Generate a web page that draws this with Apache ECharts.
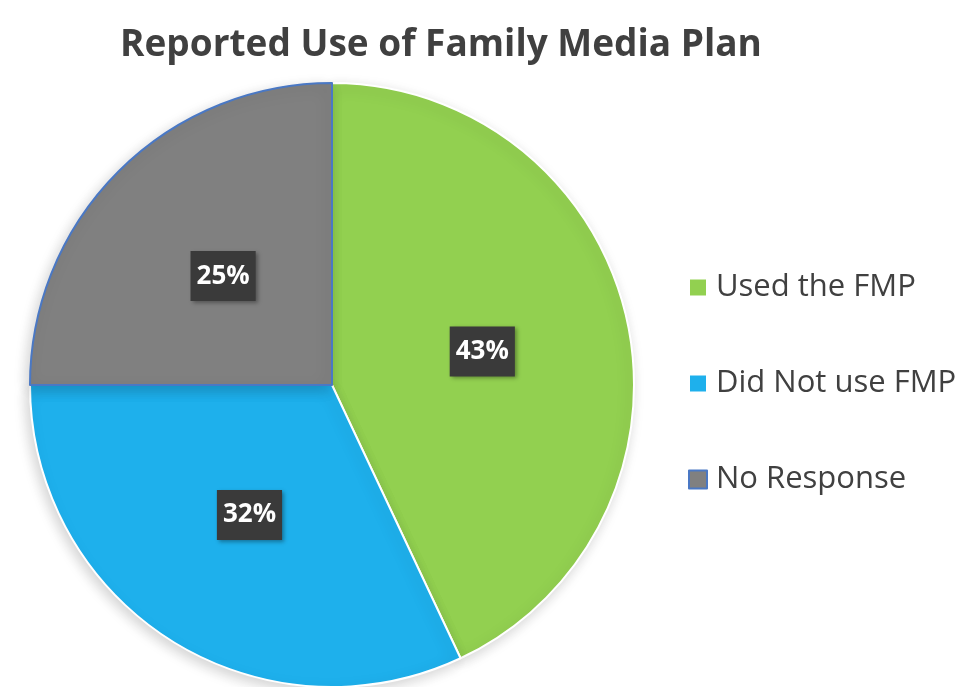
<!DOCTYPE html>
<html>
<head>
<meta charset="utf-8">
<style>
  html, body { margin: 0; padding: 0; background: #fff; }
  #chart { width: 966px; height: 687px; }
</style>
<script src="https://cdn.jsdelivr.net/npm/echarts@6/dist/echarts.min.js"></script>
</head>
<body>
<div id="chart"></div>
<script>
// 饼图 - Reported Use of Family Media Plan
const categories = ['Used the FMP', 'Did Not use FMP', 'No Response']
const shares = [43, 32, 25]
const sliceColors = ['#92D050', '#1EB0EC', '#808080']
const sliceBorders = ['#ffffff', '#ffffff', '#4A78C4']

const chart = echarts.init(document.getElementById('chart'))

const data = categories.map((name, i) => ({
  name: name,
  value: shares[i],
  itemStyle: {
    color: sliceColors[i],
    borderColor: sliceBorders[i],
    borderWidth: 2
  }
}))

chart.setOption({
  animation: false,
  title: {
    text: 'Reported Use of Family Media Plan',
    left: 436,
    textAlign: 'center',
    top: 22,
    textStyle: {
      fontFamily: 'Open Sans',
      fontWeight: 'bold',
      fontSize: 37,
      color: '#404040'
    }
  },
  legend: {
    orient: 'vertical',
    left: 683,
    top: 267,
    itemWidth: 18,
    itemHeight: 18,
    itemGap: 65,
    icon: 'rect',
    textStyle: {
      fontFamily: 'Open Sans',
      fontSize: 31,
      lineHeight: 30,
      color: '#404040',
      padding: [0, 0, 0, 4]
    },
    data: categories
  },
  series: [{
    type: 'pie',
    center: [332, 385],
    radius: 302,
    startAngle: 90,
    clockwise: true,
    label: {
      show: true,
      position: 'inside',
      formatter: '{c}%',
      fontFamily: 'Open Sans',
      fontWeight: 'bold',
      fontSize: 26,
      color: '#ffffff',
      backgroundColor: '#3A3A3A',
      padding: [13, 6, 11, 6],
      shadowColor: 'rgba(0,0,0,0.35)',
      shadowBlur: 4,
      shadowOffsetX: 2,
      shadowOffsetY: 2
    },
    labelLine: { show: false },
    emphasis: { disabled: true },
    itemStyle: {
      shadowColor: 'rgba(0,0,0,0.18)',
      shadowBlur: 14,
      shadowOffsetX: -3,
      shadowOffsetY: 4
    },
    data: data
  }]
})
</script>
</body>
</html>
